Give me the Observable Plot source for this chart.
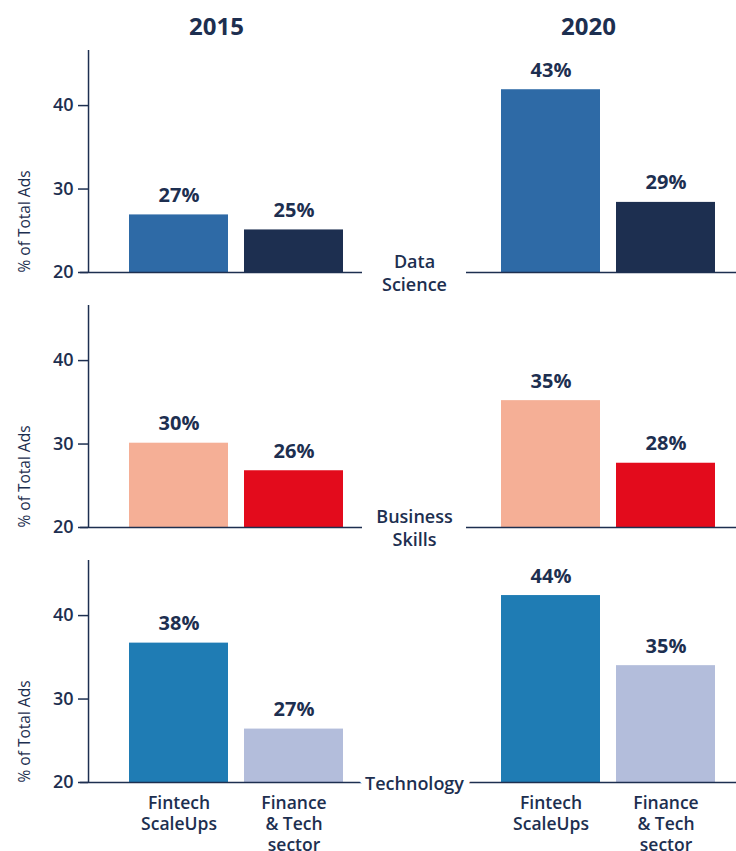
<!DOCTYPE html>
<html>
<head>
<meta charset="utf-8">
<script src="https://cdn.jsdelivr.net/npm/d3@7"></script>
<script src="https://cdn.jsdelivr.net/npm/@observablehq/plot@0.6"></script>
<style>
  html, body { margin: 0; padding: 0; background: #ffffff; }
  #chart { width: 736px; height: 851px; }
</style>
</head>
<body>
<div id="chart"></div>
<script>
// ---- data ----
const years = ["2015", "2020"];
const skills = ["Data\nScience", "Business\nSkills", "Technology"];
const groups = ["Fintech\nScaleUps", "Finance\n& Tech\nsector"];

// bar heights in order: 2015 Fintech, 2015 Finance, 2020 Fintech, 2020 Finance
const dataScienceValues = [26.9, 25.1, 41.9, 28.4];
const businessSkillsValues = [30.1, 26.8, 35.2, 27.7];
const technologyValues = [36.7, 26.4, 42.4, 34.0];

// printed labels (%)
const dataScienceLabels = [27, 25, 43, 29];
const businessSkillsLabels = [30, 26, 35, 28];
const technologyLabels = [38, 27, 44, 35];

const yDomain = [20, 46.6];
const yTicks = [20, 30, 40];
const yLabel = "% of Total Ads";

// ---- styles ----
const navy = "#1d2f50";
const palette = {
  "Data\nScience": ["#2e6aa6", "#1d2f50"],
  "Business\nSkills": ["#f5af96", "#e30b1c"],
  "Technology": ["#1f7cb4", "#b3bddb"]
};

const valuesBySkill = {
  "Data\nScience": [dataScienceValues, dataScienceLabels],
  "Business\nSkills": [businessSkillsValues, businessSkillsLabels],
  "Technology": [technologyValues, technologyLabels]
};

const rows = [];
for (const skill of skills) {
  const [vals, labs] = valuesBySkill[skill];
  years.forEach((year, yi) => {
    groups.forEach((group, gi) => {
      const k = yi * 2 + gi;
      rows.push({skill, year, group, value: vals[k], label: labs[k], color: palette[skill][gi]});
    });
  });
}
const leftRows = skills.map(skill => ({skill, year: years[0]}));
const rightRows = skills.map(skill => ({skill, year: years[1]}));

const W = 736, H = 851, mL = 88, mR = 4;
const fxPad = 0.269;
const facetStep = (W - mL - mR) / (2 - fxPad);
const facetW = facetStep * (1 - fxPad);

const chart = Plot.plot({
  width: W,
  height: H,
  marginLeft: mL,
  marginRight: mR,
  marginTop: 49,
  marginBottom: 69,
  style: {fontFamily: "'Open Sans', sans-serif", color: navy, background: "#ffffff"},
  fx: {domain: years, paddingInner: fxPad, paddingOuter: 0, label: null},
  fy: {domain: skills, paddingInner: 0.131, paddingOuter: 0, axis: null, label: null},
  x: {domain: groups, paddingInner: 0.1379, paddingOuter: 0.2414, align: 0.705, label: null},
  y: {domain: yDomain, label: null},
  marks: [
    Plot.barY(rows, {fx: "year", fy: "skill", x: "group", y1: yDomain[0], y2: "value", fill: "color"}),
    Plot.text(rows, {
      fx: "year", fy: "skill", x: "group", y: "value",
      text: d => d.label + "%", lineAnchor: "bottom", dy: -13,
      fontSize: 20, fontWeight: 700, fill: navy
    }),
    Plot.ruleY(leftRows, {fx: "year", fy: "skill", y: yDomain[0], insetLeft: -8, insetRight: -2, stroke: navy, strokeWidth: 1.5}),
    Plot.ruleY(rightRows, {fx: "year", fy: "skill", y: yDomain[0], insetLeft: 6, insetRight: -4, stroke: navy, strokeWidth: 1.5}),
    Plot.ruleX(leftRows, {fx: "year", fy: "skill", x: null, y1: yDomain[0], y2: yDomain[1], dx: -facetW / 2, stroke: navy, strokeWidth: 1.5}),
    Plot.text(leftRows, {
      fx: "year", fy: "skill", y: yDomain[0], frameAnchor: "right", dx: 54,
      text: "skill", textAnchor: "middle", lineAnchor: "middle", lineHeight: 1.28,
      fontSize: 18, fontWeight: 600, fill: navy, stroke: "#ffffff", strokeWidth: 12
    }),
    Plot.text(leftRows, {
      fx: "year", fy: "skill", y: yDomain[0], frameAnchor: "left", dx: -63,
      text: () => yLabel, rotate: -90, textAnchor: "start", lineAnchor: "middle",
      fontSize: 15.5, fontWeight: 500, fill: navy
    }),
    Plot.axisY({ticks: yTicks, tickSize: 10, tickPadding: 5, fontSize: 18, fontWeight: 600, label: null, stroke: navy, strokeWidth: 1.5}),
    Plot.axisX({tickSize: 0, tickPadding: 12, fontSize: 17.5, fontWeight: 600, lineHeight: 1.2, label: null}),
    Plot.axisFx({anchor: "top", tickSize: 0, tickPadding: 16, fontSize: 24, fontWeight: 700, dx: -8, label: null})
  ]
});
document.getElementById("chart").appendChild(chart);
</script>
</body>
</html>
